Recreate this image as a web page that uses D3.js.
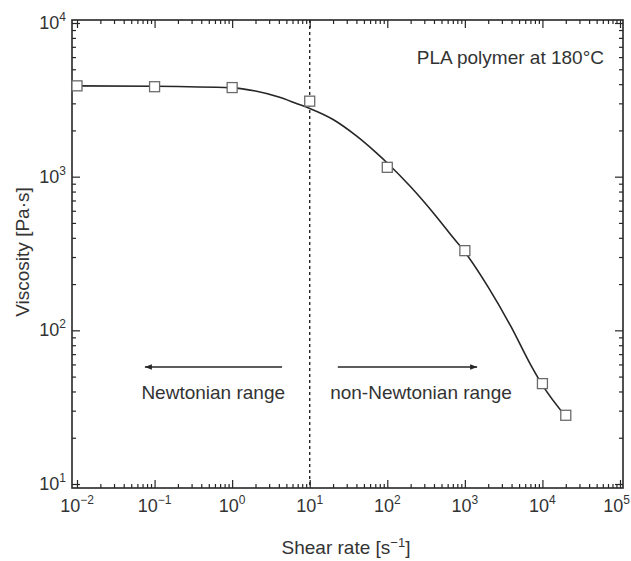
<!DOCTYPE html>
<html>
<head>
<meta charset="utf-8">
<script src="https://cdn.jsdelivr.net/npm/d3@7"></script>
<style>
  body { margin: 0; background: #fff; }
  svg { display: block; font-family: "Liberation Sans", Arial, sans-serif; }
</style>
</head>
<body>
<svg id="chart" width="631" height="561"></svg>
<script>
// measured points (open squares)
const shearRate = [0.01, 0.1, 1, 10, 100, 1000, 10000, 20000];
const viscosity = [3900, 3850, 3800, 3100, 1150, 330, 45, 28];

// fitted curve
const fitRate = [0.01, 0.1, 1, 2, 4, 7, 10, 20, 40, 70, 100, 200, 400, 700, 1000, 2000, 4000, 7000, 10000, 20000];
const fitVisc = [3900, 3880, 3785, 3607, 3297, 2972, 2780, 2355, 1841, 1449, 1227, 859, 574, 403, 323, 191, 104, 60, 44, 27.5];

const xTickExp = [-2, -1, 0, 1, 2, 3, 4, 5];
const yTickExp = [1, 2, 3, 4];

const boundaryRate = 10;
const arrowLeft = { from: [4.4, 57.7], to: [0.075, 57.7] };
const arrowRight = { from: [23, 57.7], to: [1440, 57.7] };
const rangeLabels = [
  { text: "Newtonian range", rate: 0.57, visc: 35.7 },
  { text: "non-Newtonian range", rate: 272, visc: 35.7 },
];
const note = "PLA polymer at 180°C";

(function () {
  "use strict";
  const INK = "#262626", TEXT = "#333";
  const W = 631;
  const frame = { l: 72, r: 623, t: 20, b: 488 };
  const svg = d3.select("#chart");

  const x = d3.scaleLog().domain([1e-2, 1e5]).range([77, 620]);
  const y = d3.scaleLog().domain([10, 1e4]).range([484, 23]);

  const minors = (lo, hi) => {
    const out = [];
    for (let e = lo; e < hi; e++) for (let k = 2; k <= 9; k++) out.push(k * Math.pow(10, e));
    return out;
  };
  const xMinor = minors(-2, 5), yMinor = minors(1, 4);
  const xMajor = xTickExp.map((e) => Math.pow(10, e));
  const yMajor = yTickExp.map((e) => Math.pow(10, e));
  const MAJ = 8, MIN = 4;

  // inward ticks on all four sides
  const ax = (gen, vals, size, tr) => {
    const g = svg.append("g").attr("transform", tr).call(gen.tickValues(vals).tickSize(size).tickFormat(""));
    g.select(".domain").remove();
    g.selectAll(".tick line").attr("stroke", INK).attr("stroke-width", 1.2);
  };
  ax(d3.axisTop(x), xMajor, MAJ, `translate(0,${frame.b})`);
  ax(d3.axisTop(x), xMinor, MIN, `translate(0,${frame.b})`);
  ax(d3.axisBottom(x), xMajor, MAJ, `translate(0,${frame.t})`);
  ax(d3.axisBottom(x), xMinor, MIN, `translate(0,${frame.t})`);
  ax(d3.axisRight(y), yMajor, MAJ, `translate(${frame.l},0)`);
  ax(d3.axisRight(y), yMinor, MIN, `translate(${frame.l},0)`);
  ax(d3.axisLeft(y), yMajor, MAJ, `translate(${frame.r},0)`);
  ax(d3.axisLeft(y), yMinor, MIN, `translate(${frame.r},0)`);

  svg.append("rect").attr("x", frame.l).attr("y", frame.t)
    .attr("width", frame.r - frame.l).attr("height", frame.b - frame.t)
    .attr("fill", "none").attr("stroke", INK).attr("stroke-width", 1.6);

  // tick labels: 10 with superscript exponent
  const expText = (e) => (e < 0 ? "\u2212" + Math.abs(e) : String(e));
  const xl = svg.append("g").attr("fill", TEXT);
  xTickExp.forEach((e) => {
    const px = x(Math.pow(10, e));
    const last = px + 13 > W;   // keep the 10^5 label inside the page
    const t = xl.append("text").attr("x", last ? W - 1 : px).attr("y", 512)
      .attr("text-anchor", last ? "end" : "middle").attr("font-size", 18);
    t.append("tspan").text("10");
    t.append("tspan").attr("dy", -8).attr("font-size", 12).text(expText(e));
  });
  const yl = svg.append("g").attr("fill", TEXT).attr("text-anchor", "end");
  yTickExp.forEach((e) => {
    const t = yl.append("text").attr("x", 66).attr("y", y(Math.pow(10, e)) + 6).attr("font-size", 18);
    t.append("tspan").text("10");
    t.append("tspan").attr("dy", -8).attr("font-size", 12).text(expText(e));
  });

  // axis titles
  const xt = svg.append("text").attr("x", 346).attr("y", 554).attr("text-anchor", "middle")
    .attr("font-size", 19).attr("fill", TEXT);
  xt.append("tspan").text("Shear rate [s");
  xt.append("tspan").attr("dy", -7).attr("font-size", 13).text("\u22121");
  xt.append("tspan").attr("dy", 7).text("]");
  svg.append("text").attr("transform", "translate(29,252) rotate(-90)").attr("text-anchor", "middle")
    .attr("font-size", 19).attr("fill", TEXT).text("Viscosity [Pa\u00b7s]");

  // Newtonian / non-Newtonian boundary
  svg.append("line").attr("x1", x(boundaryRate)).attr("x2", x(boundaryRate))
    .attr("y1", frame.t).attr("y2", frame.b)
    .attr("stroke", INK).attr("stroke-width", 1.4).attr("stroke-dasharray", "3 3");

  // arrows
  svg.append("defs").append("marker").attr("id", "head").attr("viewBox", "0 0 10 10")
    .attr("refX", 10).attr("refY", 5).attr("markerWidth", 11).attr("markerHeight", 7)
    .attr("markerUnits", "userSpaceOnUse").attr("orient", "auto")
    .append("path").attr("d", "M0,1 L10,5 L0,9 Z").attr("fill", INK);
  [arrowLeft, arrowRight].forEach((a) => {
    svg.append("line").attr("x1", x(a.from[0])).attr("y1", y(a.from[1]))
      .attr("x2", x(a.to[0])).attr("y2", y(a.to[1]))
      .attr("stroke", INK).attr("stroke-width", 1.4).attr("marker-end", "url(#head)");
  });
  svg.append("g").attr("fill", TEXT).attr("font-size", 19).attr("text-anchor", "middle")
    .selectAll("text").data(rangeLabels).enter().append("text")
    .attr("x", (d) => x(d.rate)).attr("y", (d) => y(d.visc)).text((d) => d.text);

  svg.append("text").attr("x", frame.r - 19).attr("y", 64).attr("text-anchor", "end")
    .attr("font-size", 19).attr("fill", TEXT).text(note);

  // fitted curve
  const fit = fitRate.map((r, i) => [r, fitVisc[i]]);
  svg.append("path").datum(fit).attr("fill", "none").attr("stroke", INK).attr("stroke-width", 1.6)
    .attr("d", d3.line().x((d) => x(d[0])).y((d) => y(d[1])).curve(d3.curveMonotoneX));

  // measured points
  const S = 10;
  svg.append("g").selectAll("rect").data(shearRate).enter().append("rect")
    .attr("x", (r) => x(r) - S / 2).attr("y", (r, i) => y(viscosity[i]) - S / 2)
    .attr("width", S).attr("height", S)
    .attr("fill", "#fff").attr("stroke", "#6b6b6b").attr("stroke-width", 1.3);
})();
</script>
</body>
</html>
